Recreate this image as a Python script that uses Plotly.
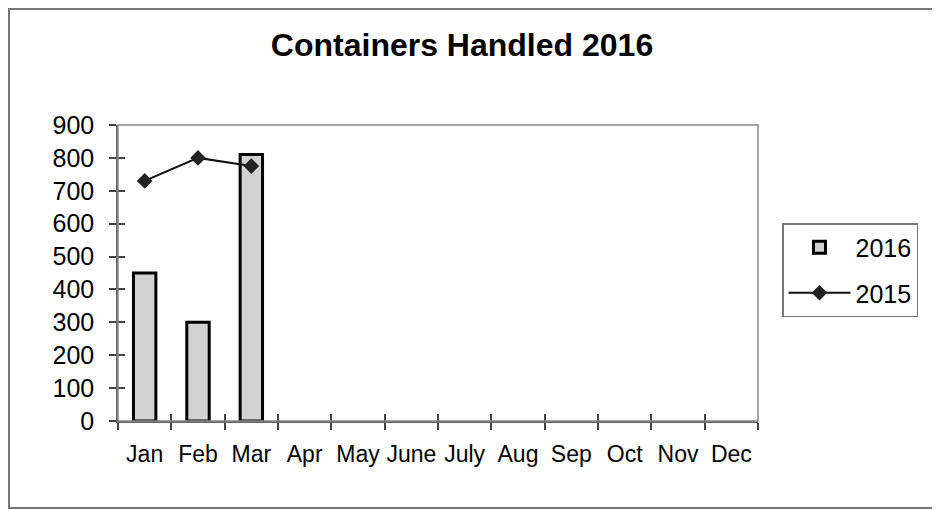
import plotly.graph_objects as go

months = ["Jan", "Feb", "Mar", "Apr", "May", "June", "July", "Aug", "Sep", "Oct", "Nov", "Dec"]
values_2016 = [450, 300, 810, None, None, None, None, None, None, None, None, None]
values_2015 = [730, 800, 775, None, None, None, None, None, None, None, None, None]
y_ticks = [0, 100, 200, 300, 400, 500, 600, 700, 800, 900]

FONT = "Liberation Sans, Arial, sans-serif"

# page has an 8px body margin: figure coords = page coords - 8
W, H = 932, 502
L, R, T, B = 110, 182, 117, 89
PW, PH = W - L - R, H - T - B

fig = go.Figure()
fig.add_trace(go.Bar(
    x=months, y=values_2016, name="2016", legendgroup="a",
    marker=dict(color="#d2d2d2", line=dict(color="black", width=3)),
    width=0.42,
))
fig.add_trace(go.Scatter(
    x=months, y=values_2015, name="2015", mode="lines+markers", legendgroup="b",
    line=dict(color="#111111", width=2),
    marker=dict(symbol="diamond", size=12, color="#222222"),
))
# invisible helper trace so the overlay axes (inside half of crossing ticks) are drawn
fig.add_trace(go.Scatter(x=months, y=[0] * len(months), xaxis="x2", yaxis="y2",
                         mode="markers", marker=dict(size=1, opacity=0),
                         showlegend=False, hoverinfo="skip"))

fig.update_layout(
    width=W, height=H,
    paper_bgcolor="white", plot_bgcolor="white",
    margin=dict(l=L, r=R, t=T, b=B),
    title=dict(text="<b>Containers Handled 2016</b>", x=(462 - 8) / W, xanchor="center",
               xref="container", y=1 - 37 / H, yanchor="middle",
               font=dict(family=FONT, size=32, color="black")),
    font=dict(family=FONT, size=25, color="black"),
    xaxis=dict(type="category", categoryorder="array", categoryarray=months,
               tickson="boundaries", ticks="outside", ticklen=7, tickwidth=1.5,
               tickcolor="#444", showline=True, linecolor="#666", linewidth=1.5,
               showgrid=False, tickfont=dict(size=23), range=[-0.5, 11.5],
               tickangle=0, ticklabelstandoff=12),
    yaxis=dict(range=[0, 900], tickvals=y_ticks, ticks="outside", ticklen=7,
               tickwidth=1.5, tickcolor="#444", showline=True, linecolor="#666",
               linewidth=1.5, showgrid=False, zeroline=False,
               tickfont=dict(size=25), ticklabelstandoff=10),
    xaxis2=dict(type="category", categoryorder="array", categoryarray=months,
                overlaying="x", side="bottom", tickson="boundaries", ticks="inside",
                ticklen=7, tickwidth=1.5, tickcolor="#444", showticklabels=False,
                showline=False, showgrid=False, range=[-0.5, 11.5], anchor="y2"),
    yaxis2=dict(range=[0, 900], tickvals=y_ticks, overlaying="y", side="left",
                ticks="inside", ticklen=7, tickwidth=1.5, tickcolor="#444",
                showticklabels=False, showline=False, showgrid=False,
                zeroline=False, anchor="x2"),
    legend=dict(x=(782 - 118) / PW, xanchor="left", y=(413 - 262) / PH, yanchor="middle",
                bordercolor="#777", borderwidth=1.5, bgcolor="white",
                font=dict(size=25), itemwidth=62, tracegroupgap=10,
                traceorder="grouped"),
    shapes=[
        dict(type="rect", xref="paper", yref="paper", x0=0, x1=1, y0=0, y1=1,
             line=dict(color="#888", width=1.5)),
        dict(type="rect", xref="paper", yref="paper",
             x0=(1 - L) / PW, x1=(W - 2 - L) / PW,
             y0=-(H - 2 - (H - B)) / PH, y1=(H - B - 1) / PH,
             line=dict(color="#777", width=2)),
    ],
)

fig.write_html("out.html")
